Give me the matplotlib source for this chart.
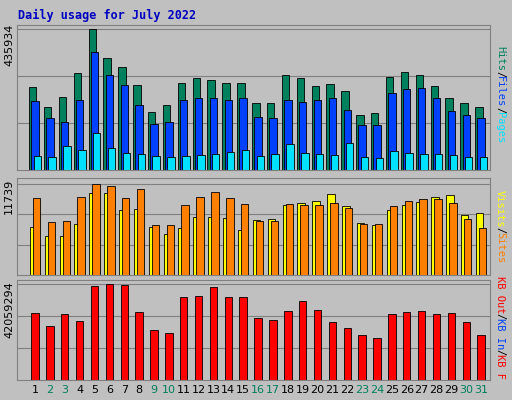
import matplotlib
matplotlib.use("Agg")
import matplotlib.pyplot as plt
import numpy as np

days = list(range(1, 32))
weekend = [2, 3, 9, 10, 16, 17, 23, 24, 30, 31]
max_hits = 435934
max_visits = 11739
max_kb = 42059294

hits_px = [83,63,73,97,141,112,103,85,58,65,87,92,90,87,87,67,67,95,92,84,86,79,55,57,93,98,95,84,72,67,63]
files_px = [69,52,48,70,118,95,85,65,46,48,70,72,72,70,72,53,52,70,68,70,72,60,45,45,77,81,82,72,59,55,52]
pages_px = [14,13,24,20,37,22,17,16,14,13,14,15,16,18,20,14,16,26,17,16,15,27,13,12,19,17,16,16,15,13,13]
hits = [p / 141 * max_hits for p in hits_px]
files = [p / 141 * max_hits for p in files_px]
pages = [p / 141 * max_hits for p in pages_px]

sites_px = [77,53,54,78,91,89,77,86,50,50,70,78,83,77,71,54,54,71,70,70,72,67,51,51,69,74,76,76,72,56,47]
visits_px = [48,39,39,51,82,82,65,66,48,41,47,58,58,57,45,55,56,70,72,74,81,69,52,50,65,70,73,78,80,60,62]
sites = [p / 91 * max_visits for p in sites_px]
visits = [p / 91 * max_visits for p in visits_px]

kb_px = [67,54,66,59,94,96,95,68,50,47,83,84,93,83,83,62,60,69,79,70,58,52,45,42,66,68,69,66,67,58,45]
kbytes = [p / 96 * max_kb for p in kb_px]

BG = "#C0C0C0"
fig = plt.figure(figsize=(5.12, 4.0), dpi=100, facecolor=BG)
W, H = 512, 400
SP = 14.87
X0 = 17 + 18 - SP  # pixel of day 0

def mkax(top, bottom):
    ax = fig.add_axes([17 / W, 1 - bottom / H, (490 - 17) / W, (bottom - top) / H])
    ax.set_facecolor(BG)
    ax.set_xlim(-18 / SP + 1, -18 / SP + 1 + 473 / SP)
    ax.set_xticks([]); ax.set_yticks([])
    for s in ax.spines.values():
        s.set_color("#808080")
    return ax

x = np.array(days)
edge = dict(edgecolor="black", linewidth=0.6)

ax1 = mkax(25, 170)
ax1.set_ylim(0, max_hits * 1.03)
for g in [1/3, 2/3, 1.0]:
    ax1.axhline(max_hits * g, color="#808080", lw=0.8, zorder=0)
ax1.bar(x - 0.15, hits, 0.5, color="#00805C", **edge)
ax1.bar(x, files, 0.5, color="#0040FF", **edge)
ax1.bar(x + 0.15, pages, 0.5, color="#00E0FF", **edge)

ax2 = mkax(178, 275)
ax2.set_ylim(0, max_visits * 97 / 91)
for g in [1/3, 2/3, 1.0]:
    ax2.axhline(max_visits * g, color="#808080", lw=0.8, zorder=0)
ax2.bar(x - 0.1, visits, 0.5, color="#FFFF00", **edge)
ax2.bar(x + 0.1, sites, 0.5, color="#FF8000", **edge)

ax3 = mkax(280, 380)
ax3.set_ylim(0, max_kb * 100 / 96)
for g in [1/3, 2/3, 1.0]:
    ax3.axhline(max_kb * g, color="#808080", lw=0.8, zorder=0)
ax3.bar(x, kbytes, 0.5, color="#FF0000", **edge)

for d in days:
    xf = (X0 + d * SP) / W
    fig.text(xf, 1 - 390 / H, str(d), ha="center", va="center", fontsize=8,
             color="#00805C" if d in weekend else "black", family="DejaVu Sans")

fig.text(18 / W, 1 - 15 / H, "Daily usage for July 2022", color="#0000C0",
         fontsize=8.5, fontweight="bold", family="DejaVu Sans Mono", va="center")

fig.text(9 / W, 1 - 45 / H, "435934", rotation=90, fontsize=8, va="center", ha="center")
fig.text(9 / W, 1 - 196 / H, "11739", rotation=90, fontsize=8, va="center", ha="center")
fig.text(9 / W, 1 - 310 / H, "42059294", rotation=90, fontsize=8, va="center", ha="center")

def rlabel(parts, ycenter):
    fs = 7.5
    cw = 6.0
    total = sum(len(t) for t, _ in parts) * cw
    y = ycenter - total / 2
    for t, c in parts:
        n = len(t) * cw
        fig.text(500 / W, 1 - (y + n / 2) / H, t, rotation=270, fontsize=fs,
                 color=c, family="DejaVu Sans Mono", va="center", ha="center")
        y += n

rlabel([("Hits", "#00805C"), ("/", "black"), ("Files", "#0040FF"), ("/", "black"), ("Pages", "#00E0FF")], 95)
rlabel([("Visits", "#FFFF00"), ("/", "black"), ("Sites", "#FF8000")], 227)
rlabel([("KB Out", "#FF0000"), ("/", "black"), ("KB In", "#0040FF"), ("/", "black"), ("KB F", "#FF0000")], 328)

fig.savefig("out.png", dpi=100, facecolor=BG)
